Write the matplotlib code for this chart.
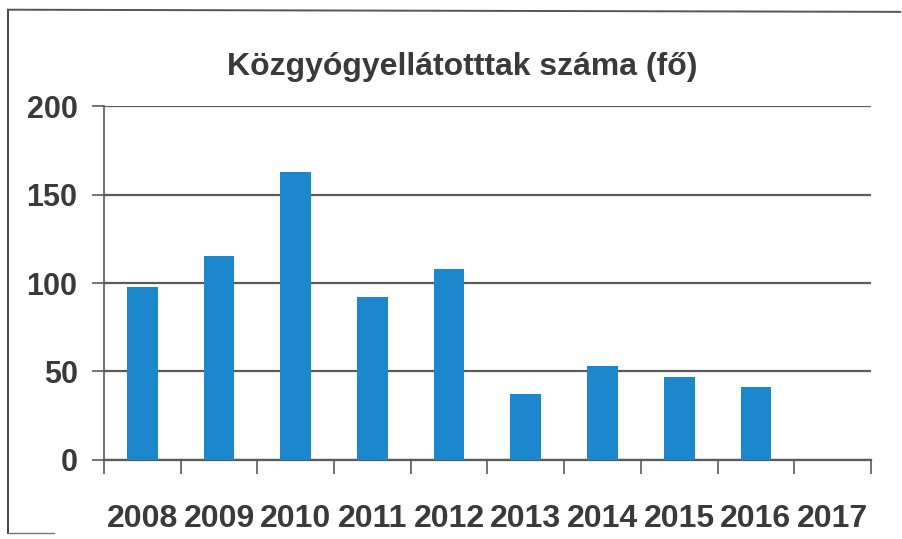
import numpy as np
import matplotlib.pyplot as plt
from matplotlib.lines import Line2D
from matplotlib import font_manager

# Data (number of people per year)
years = ['2008', '2009', '2010', '2011', '2012', '2013', '2014', '2015', '2016', '2017']
people = [98, 115, 163, 92, 108, 37, 53, 47, 41, 0]
y_ticks = [0, 50, 100, 150, 200]

# narrow bold font similar to Calibri, fall back if missing
names = {f.name for f in font_manager.fontManager.ttflist}
font = 'Liberation Sans Narrow' if 'Liberation Sans Narrow' in names else 'Liberation Sans'
plt.rcParams['font.family'] = [font, 'DejaVu Sans']

text_col = '#3a3a3a'
grid_col = '#5a5a5a'

fig = plt.figure(figsize=(9.02, 5.39), dpi=100)
ax = fig.add_axes([0.1153, 0.1466, 0.8503, 0.6567])

x = np.arange(len(years))
ax.bar(x, people, width=0.4, color='#1c87cd', zorder=3)

ax.set_xlim(-0.5, len(years) - 0.5)
ax.set_ylim(0, 200)

# horizontal grid lines
ax.set_yticks(y_ticks)
ax.set_yticklabels([str(v) for v in y_ticks], fontsize=22, fontweight='bold', color=text_col)
ax.yaxis.grid(True, color=grid_col, linewidth=1.6, zorder=0)
ax.tick_params(axis='y', direction='out', length=9, width=1.2, color=grid_col, pad=10)

# year labels at bar centres, tick marks at category boundaries
ax.set_xticks(x)
ax.set_xticklabels(years, fontsize=23, fontweight='bold', color=text_col)
ax.set_xticks(np.arange(-0.5, len(years)), minor=True)
ax.tick_params(axis='x', which='major', length=0, pad=32)
ax.tick_params(axis='x', which='minor', direction='out', length=10, width=1.2, color=grid_col)

for side in ['top', 'right']:
    ax.spines[side].set_visible(False)
ax.spines['left'].set_color(grid_col)
ax.spines['left'].set_linewidth(1.2)
ax.spines['bottom'].set_color(grid_col)
ax.spines['bottom'].set_linewidth(1.6)

fig.text(0.513, 0.875, 'Közgyógyellátotttak száma (fő)', ha='center', va='center',
         fontsize=23, fontweight='bold', color=text_col)

# scanned frame edges (left and top, short piece at the bottom)
fig.add_artist(Line2D([0.009, 0.009], [0.012, 0.982], color='#444444', linewidth=1.4))
fig.add_artist(Line2D([0.009, 0.998], [0.982, 0.978], color='#555555', linewidth=1.4))
fig.add_artist(Line2D([0.009, 0.06], [0.012, 0.012], color='#777777', linewidth=1.0))

fig.savefig('out.png', dpi=100)
